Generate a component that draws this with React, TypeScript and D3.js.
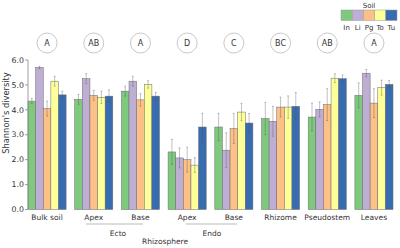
import React from "react";
import * as d3 from "d3";

const groups = ["Bulk soil", "Apex", "Base", "Apex", "Base", "Rhizome", "Pseudostem", "Leaves"];
const groupKeys = ["bulk", "ectoApex", "ectoBase", "endoApex", "endoBase", "rhizome", "pseudostem", "leaves"];
const letters = ["A", "AB", "A", "D", "C", "BC", "AB", "A"];
const soils = ["In", "Li", "Pg", "To", "Tu"];
const colors = ["#7fc97f", "#beaed4", "#fdc086", "#ffff99", "#386cb0"];

const valIn = [4.35, 4.42, 4.75, 2.31, 3.31, 3.65, 3.71, 4.58];
const valLi = [5.7, 5.25, 5.15, 2.07, 2.38, 3.54, 4.02, 5.47];
const valPg = [4.05, 4.58, 4.4, 2.0, 3.25, 4.11, 4.21, 4.27];
const valTo = [5.15, 4.5, 5.02, 1.78, 3.91, 4.11, 5.27, 4.89];
const valTu = [4.6, 4.55, 4.55, 3.31, 3.47, 4.14, 5.25, 5.02];

const errIn = [0.1, 0.2, 0.2, 0.5, 0.55, 0.65, 0.56, 0.5];
const errLi = [0.05, 0.2, 0.2, 0.4, 0.7, 0.6, 0.3, 0.15];
const errPg = [0.3, 0.2, 0.25, 0.5, 0.6, 0.4, 0.64, 0.58];
const errTo = [0.2, 0.25, 0.15, 0.3, 0.35, 0.45, 0.18, 0.3];
const errTu = [0.15, 0.25, 0.15, 0.55, 0.38, 0.55, 0.15, 0.16];

const yTicks = [0, 1, 2, 3, 4, 5, 6];

const values = [valIn, valLi, valPg, valTo, valTu];
const errors = [errIn, errLi, errPg, errTo, errTu];

const FONT = "DejaVu Sans, sans-serif";

export default function App() {
  const W = 400, H = 248;
  const x0 = d3.scaleBand<string>().domain(groupKeys).range([28, 393]).paddingInner(0.184).paddingOuter(0);
  const x1 = d3.scaleBand<string>().domain(soils).range([0, x0.bandwidth()]).padding(0);
  const y = d3.scaleLinear().domain([0, 6]).range([209.5, 60]);

  const textColor = "#333";
  return (
    <div style={{ position: "absolute", left: 0, top: 0 }}>
      <svg width={W} height={H} style={{ display: "block" }} fontFamily={FONT}>
        {/* bars */}
        {groupKeys.map((g, gi) => (
          <g key={g} transform={`translate(${x0(g)},0)`}>
            {soils.map((s, si) => {
              const v = values[si][gi];
              return (
                <rect key={s} x={x1(s)} y={y(v)} width={x1.bandwidth()} height={y(0) - y(v)}
                  fill={colors[si]} stroke="#6a6a6a" strokeWidth={0.5} />
              );
            })}
            {soils.map((s, si) => {
              const v = values[si][gi];
              const e = errors[si][gi];
              const cx = (x1(s) as number) + x1.bandwidth() / 2;
              return (
                <g key={s} stroke="#555" strokeOpacity={0.45} strokeWidth={0.8}>
                  <line x1={cx} x2={cx} y1={y(v + e)} y2={y(v - e)} />
                  <line x1={cx - 1} x2={cx + 1} y1={y(v + e)} y2={y(v + e)} />
                  <line x1={cx - 1} x2={cx + 1} y1={y(v - e)} y2={y(v - e)} />
                </g>
              );
            })}
          </g>
        ))}
        {/* y axis */}
        <line x1={28} x2={28} y1={y(6)} y2={y(0)} stroke="#888" strokeWidth={0.8} />
        {yTicks.map((t) => (
          <g key={t}>
            <line x1={25} x2={28} y1={y(t)} y2={y(t)} stroke="#888" strokeWidth={0.8} />
            <text x={24} y={y(t)} dy="0.35em" textAnchor="end" fontSize={7.8} fill={textColor}>
              {t.toFixed(1)}
            </text>
          </g>
        ))}
        <text transform={`translate(9,113) rotate(-90)`} textAnchor="middle"
          fontSize={8.3} fill={textColor}>Shannon's diversity</text>
        {/* x labels */}
        {groupKeys.map((g, gi) => (
          <text key={g} x={(x0(g) as number) + x0.bandwidth() / 2} y={220} textAnchor="middle"
            fontSize={7.5} fill={textColor}>{groups[gi]}</text>
        ))}
        {/* letters */}
        {groupKeys.map((g, gi) => {
          const cx = (x0(g) as number) + x0.bandwidth() / 2;
          return (
            <g key={g}>
              <circle cx={cx} cy={43} r={10} fill="white" stroke="#bbb" strokeWidth={0.8} />
              <text x={cx} y={43} dy="0.35em" textAnchor="middle" fontSize={8} fill={textColor}>{letters[gi]}</text>
            </g>
          );
        })}
        {/* hierarchy lines */}
        <line x1={86} x2={143} y1={224} y2={224} stroke="#aaa" strokeWidth={0.8} />
        <line x1={186} x2={237} y1={224} y2={224} stroke="#aaa" strokeWidth={0.8} />
        <text x={118} y={236} textAnchor="middle" fontSize={7.5} fill={textColor}>Ecto</text>
        <text x={212} y={236} textAnchor="middle" fontSize={7.5} fill={textColor}>Endo</text>
        <text x={165} y={244} textAnchor="middle" fontSize={7.5} fill={textColor}>Rhizosphere</text>
        {/* legend */}
        <text x={369} y={8} textAnchor="middle" fontSize={7} fill={textColor}>Soil</text>
        {soils.map((s, si) => (
          <g key={s}>
            <rect x={341 + si * 11.2} y={10} width={11.2} height={10.5} fill={colors[si]} stroke="#999" strokeWidth={0.5} />
            <text x={341 + si * 11.2 + 5.6} y={30} textAnchor="middle" fontSize={7} fill={textColor}>{s}</text>
          </g>
        ))}
      </svg>
    </div>
  );
}
